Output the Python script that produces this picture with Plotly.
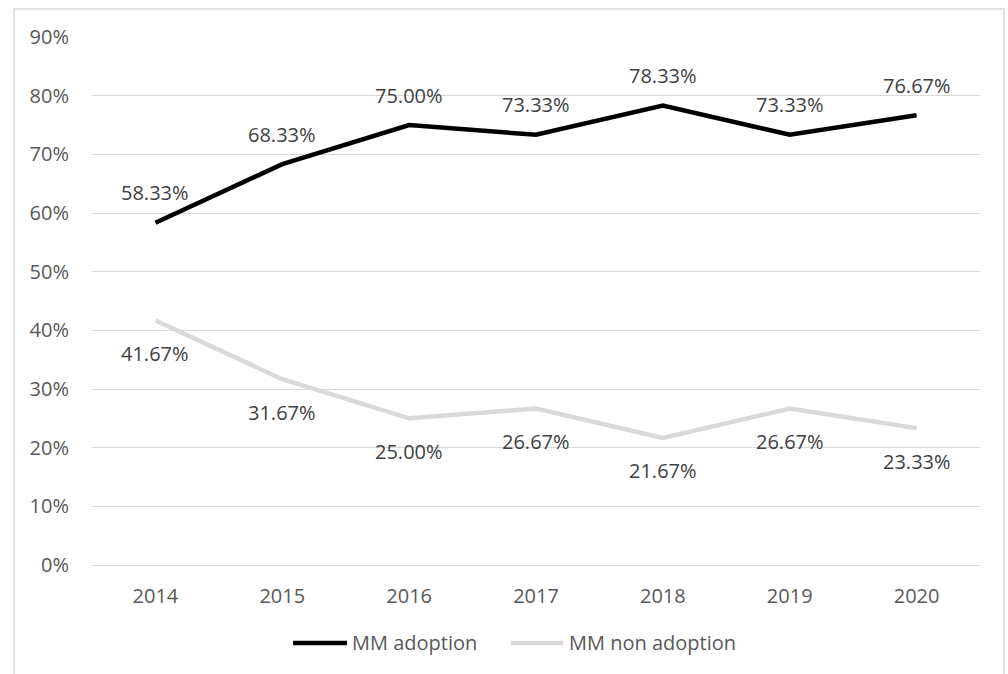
import plotly.graph_objects as go

years = ["2014", "2015", "2016", "2017", "2018", "2019", "2020"]
adoption = [0.5833, 0.6833, 0.7500, 0.7333, 0.7833, 0.7333, 0.7667]
non_adoption = [0.4167, 0.3167, 0.2500, 0.2667, 0.2167, 0.2667, 0.2333]
y_ticks = [0, 0.1, 0.2, 0.3, 0.4, 0.5, 0.6, 0.7, 0.8, 0.9]
series_names = ["MM adoption", "MM non adoption"]
series_colors = ["#000000", "#d9d9d9"]

FONT = "Open Sans"
FS = 20
fig = go.Figure()
for name, vals, col in zip(series_names, [adoption, non_adoption], series_colors):
    fig.add_trace(go.Scatter(x=list(range(len(years))), y=vals, mode="lines", name=name,
                             line=dict(color=col, width=4.5), hoverinfo="skip",
                             showlegend=False))

annotations = []
for i, yv in enumerate(adoption):
    annotations.append(dict(x=i, y=yv, xref="x", yref="y", text=f"{yv*100:.2f}%",
                            showarrow=False, yshift=30,
                            font=dict(family=FONT, size=FS, color="#404040")))
for i, yv in enumerate(non_adoption):
    annotations.append(dict(x=i, y=yv, xref="x", yref="y", text=f"{yv*100:.2f}%",
                            showarrow=False, yshift=-33,
                            font=dict(family=FONT, size=FS, color="#404040")))

# manual legend (Excel-like long line symbols)
legend_pos = [(0.2264, 0.2872, 0.2905), (0.4718, 0.5304, 0.5349)]
legend_y = -0.1477
shapes = [dict(type="rect", xref="paper", yref="paper",
               x0=-0.0878, x1=1.027, y0=-0.25, y1=1.053,
               line=dict(color="#d9d9d9", width=1.5), layer="below")]
for name, col, (lx0, lx1, tx) in zip(series_names, series_colors, legend_pos):
    shapes.append(dict(type="line", xref="paper", yref="paper", x0=lx0, x1=lx1,
                       y0=legend_y, y1=legend_y, line=dict(color=col, width=4.5)))
    annotations.append(dict(x=tx, y=legend_y, xref="paper", yref="paper", text=name,
                            showarrow=False, xanchor="left", yanchor="middle",
                            font=dict(family=FONT, size=FS, color="#595959")))

fig.update_layout(
    width=1008, height=674,
    margin=dict(l=92, r=28, t=37, b=109),
    paper_bgcolor="white", plot_bgcolor="white",
    font=dict(family=FONT, size=FS, color="#595959"),
    showlegend=False,
    annotations=annotations,
    shapes=shapes,
)
fig.update_xaxes(range=[-0.5, 6.5], tickvals=list(range(len(years))), ticktext=years,
                 showgrid=False, showline=False, zeroline=False, ticks="",
                 ticklabelstandoff=17,
                 tickfont=dict(family=FONT, size=FS, color="#595959"), fixedrange=True)
fig.update_yaxes(range=[0, 0.9], tickvals=y_ticks, tickformat=".0%", showgrid=True,
                 gridcolor="#d9d9d9", gridwidth=1.3, zeroline=True, zerolinecolor="#d9d9d9",
                 zerolinewidth=1.3, showline=False,
                 ticks="", ticklabelstandoff=22,
                 tickfont=dict(family=FONT, size=FS, color="#595959"), fixedrange=True)

fig.write_html("out.html", config={"displayModeBar": False},
               post_script="document.body.style.margin='0';document.body.style.overflow='hidden';")
